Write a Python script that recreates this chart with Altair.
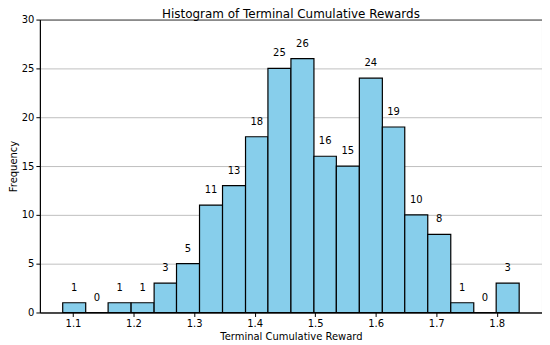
import altair as alt
import pandas as pd

bin_edges = [1.083, 1.121, 1.158, 1.196, 1.234, 1.271, 1.309, 1.347, 1.385, 1.422,
             1.460, 1.498, 1.535, 1.573, 1.611, 1.648, 1.686, 1.724, 1.762, 1.799, 1.837]
counts = [1, 0, 1, 1, 3, 5, 11, 13, 18, 25, 26, 16, 15, 24, 19, 10, 8, 1, 0, 3]
x_ticks = [1.1, 1.2, 1.3, 1.4, 1.5, 1.6, 1.7, 1.8]
y_ticks = [0, 5, 10, 15, 20, 25, 30]

df = pd.DataFrame({
    "start": bin_edges[:-1],
    "end": bin_edges[1:],
    "count": counts,
})
df["mid"] = (df["start"] + df["end"]) / 2

FONT = "DejaVu Sans"
xscale = alt.Scale(domain=[1.0453, 1.8747], nice=False, zero=False)
yscale = alt.Scale(domain=[0, 30], nice=False)

bars = alt.Chart(df).mark_bar(
    color="#87CEEB", stroke="black", strokeWidth=1.2, opacity=1
).encode(
    x=alt.X("start:Q", scale=xscale,
            axis=alt.Axis(values=x_ticks, format=".1f", title="Terminal Cumulative Reward",
                          grid=False, tickSize=4, labelPadding=2, titlePadding=3)),
    x2="end:Q",
    y=alt.Y("count:Q", scale=yscale,
            axis=alt.Axis(values=y_ticks, title="Frequency", grid=True,
                          gridColor="#b0b0b0", gridWidth=0.8, tickSize=4,
                          labelPadding=2, titlePadding=3)),
    y2=alt.datum(0),
)

labels = alt.Chart(df).mark_text(
    font=FONT, fontSize=10, color="black", dy=-15, baseline="middle"
).encode(
    x=alt.X("mid:Q", scale=xscale),
    y=alt.Y("count:Q", scale=yscale),
    text="count:Q",
)

chart = alt.layer(bars, labels).properties(
    width=504, height=294,
    title=alt.TitleParams("Histogram of Terminal Cumulative Rewards", font=FONT,
                          fontSize=12, fontWeight="normal", color="black",
                          frame="group", offset=2, dy=8),
    autosize=alt.AutoSizeParams(type="none"),
    padding={"left": 32, "top": 11, "right": 0, "bottom": 30},
).configure_view(
    stroke="black", strokeWidth=1
).configure_axis(
    labelFont=FONT, titleFont=FONT, labelFontSize=10, titleFontSize=10,
    labelColor="black", titleColor="black", titleFontWeight="normal",
    domainColor="black", tickColor="black", domainWidth=1,
)

chart.save("out.html", embed_options={"renderer": "svg", "actions": False})
